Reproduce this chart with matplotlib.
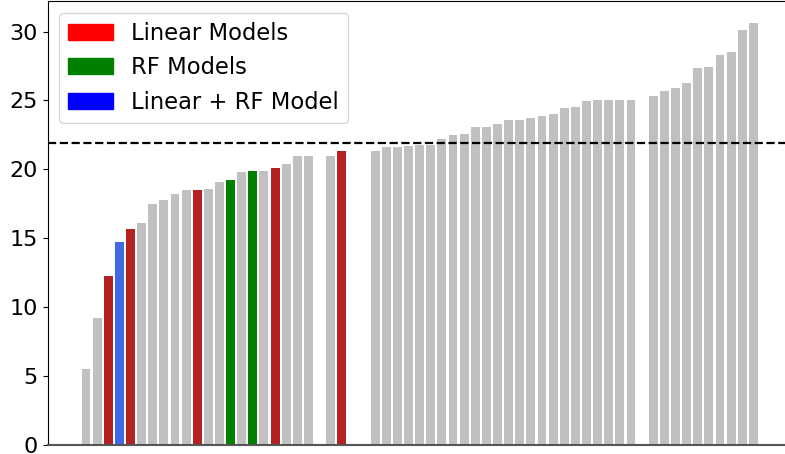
import matplotlib.pyplot as plt
from matplotlib.patches import Patch
import numpy as np

# Sorted model scores; 0 marks a slot with no entry
scores = [5.5, 9.2, 12.25, 14.7, 15.65, 16.1, 17.5, 17.8, 18.25, 18.5,
          18.5, 18.6, 19.1, 19.2, 19.8, 19.85, 19.85, 20.07, 20.4, 21.0,
          21.0, 0, 21.0, 21.3, 0, 0, 21.37, 21.6, 21.6, 21.67,
          21.8, 21.8, 22.17, 22.46, 22.6, 23.04, 23.1, 23.26, 23.55, 23.55,
          23.7, 23.84, 23.99, 24.42, 24.5, 24.93, 25.0, 25.0, 25.07, 25.07,
          0, 25.36, 25.72, 25.87, 26.3, 27.39, 27.46, 28.33, 28.55, 30.14,
          30.65]

# Which model family each bar belongs to ('' = other)
model_type = [''] * len(scores)
for i in [2, 4, 10, 17, 23]:
    model_type[i] = 'linear'
for i in [13, 15]:
    model_type[i] = 'rf'
model_type[3] = 'both'

baseline = 21.9

bar_colors = {'': 'silver', 'linear': 'firebrick', 'rf': 'green', 'both': 'royalblue'}
colors = [bar_colors[t] for t in model_type]

fig = plt.figure(figsize=(7.85, 4.54), dpi=100)
ax = fig.add_axes([0.0608, 0.0198, 0.9476, 0.9769])

x = np.arange(len(scores))
ax.bar(x, scores, width=0.8, color=colors)
ax.axhline(baseline, color='black', linestyle='--', linewidth=1.6)

ax.set_xticks([])
ax.tick_params(axis='y', labelsize=16)
ax.spines['bottom'].set_color('#555555')
ax.spines['bottom'].set_linewidth(1.5)

handles = [Patch(color='red', label='Linear Models'),
           Patch(color='green', label='RF Models'),
           Patch(color='blue', label='Linear + RF Model')]
ax.legend(handles=handles, loc='upper left', fontsize=16.3)

plt.savefig('out.png', dpi=100)
